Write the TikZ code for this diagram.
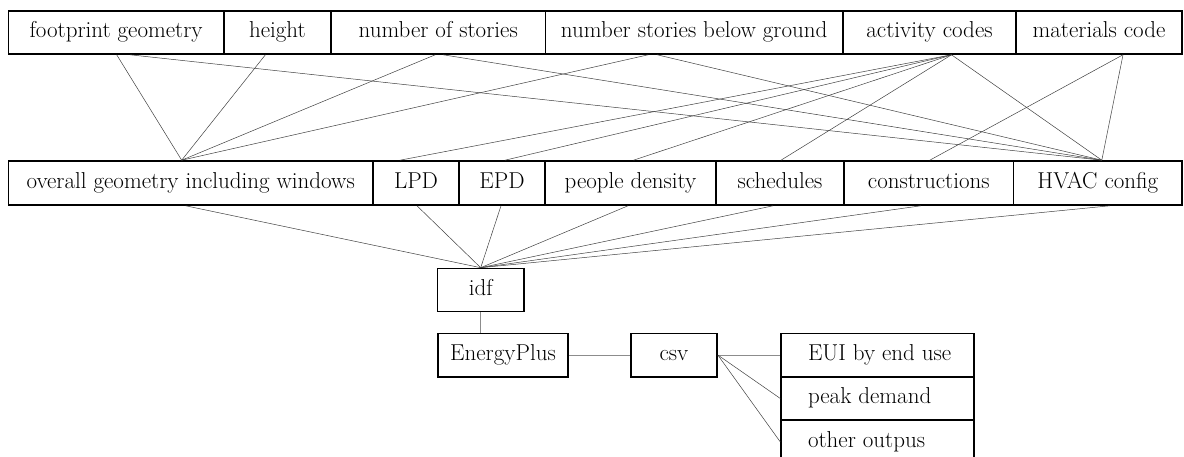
\documentclass[tikz,border=0pt]{standalone}
\usepackage{fontspec}
\newcommand{\lefttext}[1]{\makebox[139pt][l]{#1}}
\begin{document}
\begin{tikzpicture}[x=1pt,y=-1pt,
  box/.style={draw=black,line width=1.6pt,rectangle,inner sep=0pt,anchor=center,
    font=\fontsize{23}{27}\selectfont,text height=15.5pt,text depth=5pt},
  link/.style={draw=black!75,line width=0.5pt},
  glink/.style={draw=black!45,line width=0.9pt}]
\useasboundingbox (0,0) rectangle (1184,457);
\clip (0,0) rectangle (1184,457);
% top row
\node[box,minimum width=215.4pt,minimum height=43pt] (fp) at (116.1,32.5) {footprint geometry};
\node[box,minimum width=107.2pt,minimum height=43pt] (ht) at (277.4,32.5) {height};
\node[box,minimum width=214.4pt,minimum height=43pt] (ns) at (438.2,32.5) {number of stories};
\node[box,minimum width=297.6pt,minimum height=43pt] (nb) at (694.2,32.5) {number stories below ground};
\node[box,minimum width=173pt,minimum height=43pt] (ac) at (929.5,32.5) {activity codes};
\node[box,minimum width=166pt,minimum height=43pt] (mc) at (1099,32.5) {materials code};
% second row
\node[box,minimum width=364.6pt,minimum height=44pt] (og) at (190.7,183) {overall geometry including windows};
\node[box,minimum width=86pt,minimum height=44pt] (lpd) at (416,183) {LPD};
\node[box,minimum width=86pt,minimum height=44pt] (epd) at (502,183) {EPD};
\node[box,minimum width=171pt,minimum height=44pt] (pd) at (630.5,183) {people density};
\node[box,minimum width=128pt,minimum height=44pt] (sch) at (780,183) {schedules};
\node[box,minimum width=169.6pt,minimum height=44pt] (con) at (928.8,183) {constructions};
\node[box,minimum width=168.4pt,minimum height=44pt] (hv) at (1097.8,183) {HVAC config};
% lower part
\node[box,minimum width=86.7pt,minimum height=43pt] (idf) at (480.7,290) {idf};
\node[box,minimum width=130pt,minimum height=43.4pt] (ep) at (503,355) {EnergyPlus};
\node[box,minimum width=86pt,minimum height=43.4pt] (csv) at (674,355) {csv};
\node[box,minimum width=193pt,minimum height=43.4pt] (eui) at (877.5,355) {\lefttext{EUI by end use}};
\node[box,minimum width=193pt,minimum height=43.4pt] (pk) at (877.5,398.4) {\lefttext{peak demand}};
\node[box,minimum width=193pt,minimum height=43.4pt] (oo) at (877.5,441.8) {\lefttext{other outpus}};
% top row -> second row
\draw[link] ([xshift=0.6pt]fp.south) -- ([xshift=-9pt]og.north);
\draw[link] ([xshift=14pt]fp.south) -- ([xshift=4pt]hv.north);
\draw[link] ([xshift=-12pt]ht.south) -- ([xshift=-9pt]og.north);
\draw[link] ([xshift=-3pt]ns.south) -- ([xshift=-9pt]og.north);
\draw[link] ([xshift=5pt]ns.south) -- ([xshift=4pt]hv.north);
\draw[link] ([xshift=-46pt]nb.south) -- ([xshift=-9pt]og.north);
\draw[link] ([xshift=-37pt]nb.south) -- ([xshift=4pt]hv.north);
\draw[link] ([xshift=22pt]ac.south) -- ([xshift=-16pt]lpd.north);
\draw[link] ([xshift=22pt]ac.south) -- ([xshift=3pt]epd.north);
\draw[link] ([xshift=22pt]ac.south) -- ([xshift=3pt]pd.north);
\draw[link] ([xshift=22pt]ac.south) -- ([xshift=1pt]sch.north);
\draw[link] ([xshift=22pt]ac.south) -- ([xshift=4pt]hv.north);
\draw[link] ([xshift=24pt]mc.south) -- ([xshift=1pt]con.north);
\draw[link] ([xshift=24pt]mc.south) -- ([xshift=4pt]hv.north);
% second row -> idf
\draw[link] ([xshift=-5pt]og.south) -- (idf.north);
\draw[link] ([xshift=1pt]lpd.south) -- (idf.north);
\draw[link] ([xshift=-1pt]epd.south) -- (idf.north);
\draw[link] ([xshift=-2.5pt]pd.south) -- (idf.north);
\draw[link] ([xshift=-7pt]sch.south) -- (idf.north);
\draw[link] ([xshift=-8pt]con.south) -- (idf.north);
\draw[link] ([xshift=12pt]hv.south) -- (idf.north);
% lower connectors
\draw[glink] (idf.south) -- (idf.south |- ep.north);
\draw[glink] (ep.east) -- (csv.west);
\draw[glink] (csv.east) -- (eui.west);
\draw[link] (csv.east) -- (pk.west);
\draw[link] (csv.east) -- (oo.west);
\end{tikzpicture}
\end{document}
